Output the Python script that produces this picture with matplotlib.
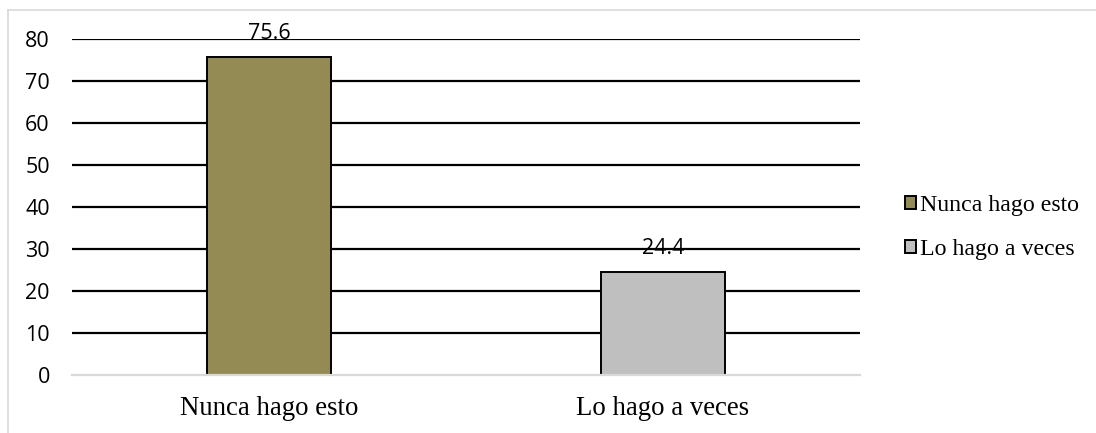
import matplotlib.pyplot as plt
from matplotlib.patches import Patch
from matplotlib.lines import Line2D

categories = ['Nunca hago esto', 'Lo hago a veces']
values = [75.6, 24.4]
colors = ['#948A54', '#BFBFBF']
y_ticks = [0, 10, 20, 30, 40, 50, 60, 70, 80]

fig = plt.figure(figsize=(10.96, 4.33), dpi=100)
ax = fig.add_axes([0.0657, 0.134, 0.719, 0.776])

# gridlines above zero, the zero line is the light axis line
ax.hlines(y_ticks[1:], -0.5, 1.5, color='black', lw=1.6, zorder=1)

x = list(range(len(categories)))
bars = ax.bar(x, values, width=0.315, color=colors, edgecolor='black',
              linewidth=1.4, zorder=2)

for xi, v in zip(x, values):
    ax.annotate(f'{v}', (xi, v), xytext=(0, 13.5), textcoords='offset points',
                ha='center', va='baseline', fontsize=15.5,
                family='Open Sans', zorder=3)

ax.set_xlim(-0.5, 1.5)
ax.set_ylim(0, 80)
ax.set_yticks(y_ticks)
ax.set_xticks(x)
ax.set_xticklabels(categories, family='Liberation Serif', fontsize=19.3)
for lab in ax.get_yticklabels():
    lab.set_family('Open Sans')
    lab.set_fontsize(15.5)
ax.tick_params(axis='y', length=0, pad=16)
ax.tick_params(axis='x', length=0, pad=15)

for s in ['top', 'right', 'left']:
    ax.spines[s].set_visible(False)
ax.spines['bottom'].set_color('#D9D9D9')
ax.spines['bottom'].set_linewidth(1.6)
ax.spines['bottom'].set_zorder(3)

handles = [Patch(facecolor=c, edgecolor='black', linewidth=1.4) for c in colors]
fig.legend(handles, categories, loc='center left', bbox_to_anchor=(0.806, 0.475),
           frameon=False, prop={'family': 'Liberation Serif', 'size': 17.2},
           handlelength=0.45, handleheight=0.45, handletextpad=0.2,
           labelspacing=0.95)

# light frame around the chart area
fig.add_artist(Line2D([8 / 1096, 1], [1 - 10 / 433, 1 - 10 / 433],
                      transform=fig.transFigure, color='#D9D9D9', lw=1.2))
fig.add_artist(Line2D([8 / 1096, 8 / 1096], [0, 1 - 10 / 433],
                      transform=fig.transFigure, color='#D9D9D9', lw=1.2))

fig.savefig('out.png', dpi=100)
